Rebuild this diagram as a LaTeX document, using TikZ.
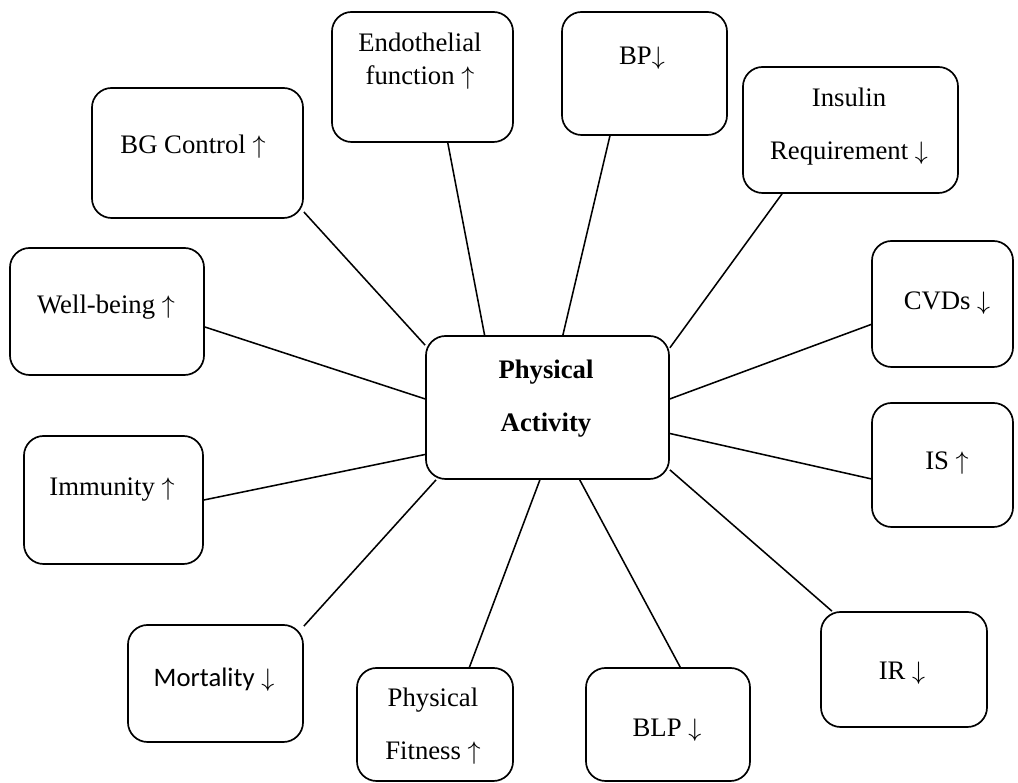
\documentclass[tikz,border=0pt]{standalone}
\usepackage{fontspec}
\setmainfont{Liberation Serif}
\newfontfamily\calibrifont{Carlito}

\begin{document}
\begin{tikzpicture}[x=0.0125cm,y=-0.0125cm,
	box/.style={draw, line width=0.6pt, rounded corners=7pt, inner sep=0pt},
	txt/.style={font=\fontsize{9.5}{18.8}\selectfont, align=center, inner sep=0pt},
	link/.style={line width=0.55pt}]
	\useasboundingbox (0,0) rectangle (1018,783);
	
	% We will draw the boxes here
	\node[box, minimum width=3.0375cm, minimum height=1.7875cm] (pa) at (547.5,407.5) {};
	\node[box, minimum width=2.6375cm, minimum height=1.625cm] (bg) at (197.5,153) {};
	\node[box, minimum width=2.2625cm, minimum height=1.625cm] (endo) at (422.5,77) {};
	\node[box, minimum width=2.0625cm, minimum height=1.5375cm] (bp) at (644.5,73.5) {};
	\node[box, minimum width=2.6875cm, minimum height=1.575cm] (ins) at (850.5,130) {};
	\node[box, minimum width=1.7625cm, minimum height=1.575cm] (cvd) at (942.5,304) {};
	\node[box, minimum width=1.7625cm, minimum height=1.55cm] (is) at (942.5,465) {};
	\node[box, minimum width=2.075cm, minimum height=1.4375cm] (ir) at (904,669.5) {};
	\node[box, minimum width=2.05cm, minimum height=1.4125cm] (blp) at (668,724.5) {};
	\node[box, minimum width=1.95cm, minimum height=1.4125cm] (pf) at (435,724.5) {};
	\node[box, minimum width=2.1875cm, minimum height=1.4625cm] (mort) at (215.5,683.5) {};
	\node[box, minimum width=2.2375cm, minimum height=1.6cm] (imm) at (113.5,500) {};
	\node[box, minimum width=2.425cm, minimum height=1.5875cm] (well) at (107,311.5) {};
	
	% texts
	\node[txt, font=\fontsize{9.5}{18.8}\selectfont\bfseries] (pa-t) at (546,398.5) {Physical\\Activity};
	\node[txt] (bg-t) at (193,147) {BG Control $\uparrow$};
	\node[txt, font=\fontsize{9.5}{11.7}\selectfont] (endo-t) at (420,61.5) {Endothelial\\function $\uparrow$};
	\node[txt] (bp-t) at (642,58) {BP$\downarrow$};
	\node[txt] (ins-t) at (849,126.5) {Insulin\\Requirement $\downarrow$};
	\node[txt] (cvd-t) at (947,303) {CVDs $\downarrow$};
	\node[txt] (is-t) at (947,463) {IS $\uparrow$};
	\node[txt] (ir-t) at (902,673) {IR $\downarrow$};
	\node[txt] (blp-t) at (667,730) {BLP $\downarrow$};
	\node[txt] (pf-t) at (433,726) {Physical\\Fitness $\uparrow$};
	\node[txt] (mort-t) at (214,680) {{\calibrifont Mortality} $\downarrow$};
	\node[txt] (imm-t) at (112,490) {Immunity $\uparrow$};
	\node[txt] (well-t) at (106,307) {Well-being $\uparrow$};
	
	% links to the centre
	\foreach \a/\b/\c in {bg/-29/153, endo/-69.3/131.2, bp/-119.3/78.5,
		ins/-137.4/26.3, cvd/-164.9/4, is/-169.6/-12.75, ir/141.9/-27.4,
		blp/78/-66.2, pf/59.7/-96.8, mort/33/-147.2, imm/0.6/-159.9, well/-9.7/176}
	\draw[link] (\a.\b) -- (pa.\c);
	
\end{tikzpicture}
\end{document}
